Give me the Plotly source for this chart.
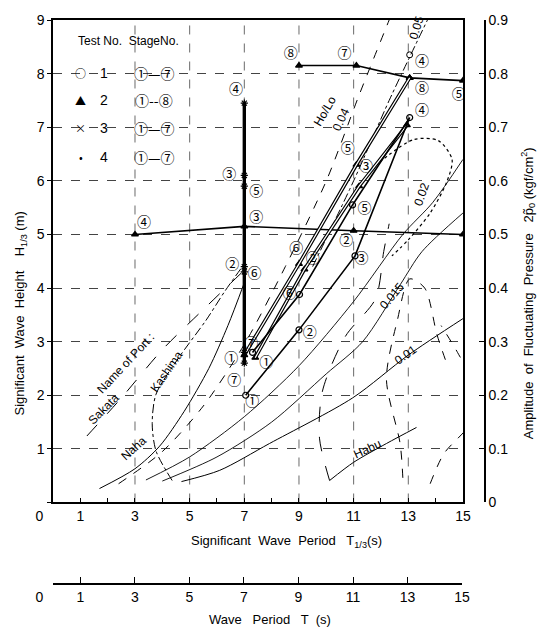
import plotly.graph_objects as go

FONT = "Liberation Sans, DejaVu Sans, sans-serif"
CFONT = "Noto Sans CJK JP, DejaVu Sans, sans-serif"

# ---------------- axes ----------------
x_tickvals = list(range(16))
x_ticktext = ["0" + "\u00a0" * 7, "1", " ", "3", " ", "5", " ", "7", " ", "9", " ", "11", " ", "13", " ", "15"]
x_grid = [3, 5, 7, 9, 11, 13]
y_range = [0, 9]
y_tickvals = list(range(10))
y_ticktext = [" ", "1", "2", "3", "4", "5", "6", "7", "8", "9"]
p_tickvals = [0, 0.1, 0.2, 0.3, 0.4, 0.5, 0.6, 0.7, 0.8, 0.9]
p_ticktext = ["0", "0.1", "0.2", "0.3", "0.4", "0.5", "0.6", "0.7", "0.8", "0.9"]
t_tickvals = [0, 1, 3, 5, 7, 9, 11, 13, 15]
t_ticktext = ["0" + "\u00a0" * 7, "1", "3", "5", "7", "9", "11", "13", "15"]

# ---------------- background curves ----------------
naha_T = [1.7, 3.0, 3.9, 4.8, 5.7, 6.4, 7.0]
naha_H = [0.26, 0.63, 1.05, 1.7, 2.5, 3.3, 4.1]
kashima_T = [4.36, 3.77, 3.63, 3.77, 4.6, 5.6, 6.3, 7.0]
kashima_H = [0.41, 0.96, 1.47, 2.02, 2.7, 3.4, 3.95, 4.45]
sakata_T = [1.24, 2.5, 4.0, 5.5, 6.93]
sakata_H = [1.24, 1.95, 2.85, 3.6, 4.3]

s004_T = [2.4, 4.0, 5.5, 7.0, 8.5, 10.0, 11.2, 12.3]
s004_H = [0.35, 0.95, 1.8, 2.95, 4.4, 6.0, 7.6, 9.0]
s005_T = [9.5, 11.0, 12.3, 13.7]
s005_H = [4.4, 6.0, 7.5, 9.0]
s002_T = [3.4, 5.0, 7.0, 9.0, 11.0, 12.8, 13.9, 15.0]
s002_H = [0.42, 0.85, 1.6, 2.55, 3.75, 5.0, 5.6, 6.4]
s0015_T = [4.0, 6.0, 8.0, 10.0, 11.33, 12.7, 13.5, 15.0]
s0015_H = [0.4, 0.85, 1.5, 2.4, 3.0, 4.06, 4.68, 5.4]
s001_T = [4.7, 6.1, 7.92, 10.96, 13.0, 15.0]
s001_H = [0.39, 0.6, 1.1, 1.95, 2.75, 3.43]

habu_a_T = [10.12, 9.75, 9.86, 10.7, 11.8, 12.1, 12.3]
habu_a_H = [0.41, 1.2, 2.08, 3.1, 3.8, 4.68, 5.2]
habu_s_T = [10.12, 11.0, 12.2, 13.3]
habu_s_H = [0.41, 0.75, 1.1, 1.4]
habu_b_T = [12.8, 12.7, 12.2, 12.6, 13.05, 13.6, 14.05, 14.4]
habu_b_H = [0.46, 1.1, 2.3, 3.4, 4.17, 4.0, 3.13, 2.6]
habu_c_T = [13.8, 14.3, 15.26, 15.5, 14.8, 14.2]
habu_c_H = [0.35, 0.91, 1.47, 2.08, 2.8, 3.3]
loop_T = [11.95, 13.2, 14.1, 14.6, 14.4, 13.8, 13.0, 12.4]
loop_H = [6.35, 6.77, 6.75, 6.4, 5.97, 5.4, 4.9, 4.6]

# ---------------- test paths ----------------
t1_T = [7.05, 9.0, 11.05, 13.05, 10.96, 9.02, 7.3]
t1_H = [2.0, 3.22, 4.6, 7.18, 5.55, 3.88, 2.8]
t2a_T = [3.0, 7.0, 11.0, 15.0]
t2a_H = [5.0, 5.15, 5.07, 5.0]
t2b_T = [9.0, 11.1, 13.05, 15.0]
t2b_H = [8.15, 8.15, 7.92, 7.87]
t3_T = [7.0, 9.0, 11.1, 13.05]
t3_H = [2.75, 4.45, 6.3, 7.92]
t3b_T = [7.4, 9.2, 11.2, 12.95]
t3b_H = [2.7, 4.35, 5.9, 7.04]
t4_T = [7.0, 7.0, 7.0, 7.0, 7.0, 7.0, 7.0]
t4_H = [2.6, 4.4, 6.1, 7.45, 5.9, 4.3, 2.8]
top_T = [13.05]
top_H = [8.35]

# stage labels
lab_T = [6.7, 6.45, 7.44, 7.44, 3.33, 6.56, 7.37, 7.25, 6.52, 6.63, 7.29, 7.8,
         8.65, 9.39, 8.9, 9.5, 11.4, 10.73, 11.29, 10.78, 11.45,
         8.7, 10.67, 13.5, 13.5, 13.5, 14.85]
lab_H = [7.68, 6.1, 5.79, 5.29, 5.2, 4.43, 4.25, 2.95, 2.67, 2.26, 1.86, 2.6,
         3.88, 3.15, 4.71, 4.53, 5.47, 4.86, 4.53, 6.59, 6.25,
         8.35, 8.35, 8.2, 7.7, 7.3, 7.6]
lab_txt = ["④", "③", "⑤", "③", "④", "②", "⑥", "⑦", "①", "⑦", "①", "①",
           "⑥", "②", "⑥", "②", "⑤", "②", "③", "⑤", "③",
           "⑧", "⑦", "④", "⑧", "④", "⑤"]

fig = go.Figure()

# vertical grid lines
for g in x_grid:
    fig.add_trace(go.Scatter(x=[g, g], y=y_range, mode="lines",
                             line=dict(color="#444", width=0.8, dash="dash"),
                             hoverinfo="skip", showlegend=False))


def curve(T, H, dash="solid", width=1.0, color="black"):
    fig.add_trace(go.Scatter(x=T, y=H, mode="lines",
                             line=dict(color=color, width=width, dash=dash, shape="spline", smoothing=0.8),
                             hoverinfo="skip", showlegend=False))


curve(naha_T, naha_H, "solid", 1.0)
curve(kashima_T, kashima_H, "dashdot", 1.0)
curve(sakata_T, sakata_H, "longdash", 1.0)
curve(s004_T, s004_H, "dash", 1.0)
curve(s005_T, s005_H, "dashdot", 1.0)
curve(s002_T, s002_H, "solid", 0.9)
curve(s0015_T, s0015_H, "solid", 0.9)
curve(s001_T, s001_H, "solid", 1.0)
curve(habu_a_T, habu_a_H, "longdash", 1.0)
curve(habu_s_T, habu_s_H, "solid", 1.0)
curve(habu_b_T, habu_b_H, "dash", 1.0)
curve(habu_c_T, habu_c_H, "dash", 1.0)
curve(loop_T, loop_H, "dot", 1.2)


def path(T, H, width=1.5, symbol="circle-open", msize=6, double=False):
    fig.add_trace(go.Scatter(x=T, y=H, mode="lines+markers",
                             line=dict(color="black", width=width),
                             marker=dict(symbol=symbol, size=msize, color="black",
                                         line=dict(color="black", width=1.2)),
                             hoverinfo="skip", showlegend=False))
    if double:
        fig.add_trace(go.Scatter(x=T, y=H, mode="lines",
                                 line=dict(color="white", width=width * 0.35),
                                 hoverinfo="skip", showlegend=False))


path(t2a_T, t2a_H, 1.6, "triangle-up", 6)
path(t2b_T, t2b_H, 1.6, "triangle-up", 6)
path(t3_T, t3_H, 3.6, "triangle-up", 6, double=True)
path(t3b_T, t3b_H, 3.6, "triangle-up", 6, double=True)
path(t1_T, t1_H, 1.6, "circle-open", 6)
path(t4_T, t4_H, 3.4, "asterisk-open", 6)
fig.add_trace(go.Scatter(x=top_T, y=top_H, mode="markers",
                         marker=dict(symbol="circle-open", size=6, color="black"),
                         hoverinfo="skip", showlegend=False))

fig.add_trace(go.Scatter(x=lab_T, y=lab_H, mode="text", text=lab_txt,
                         textfont=dict(family=CFONT, size=14, color="black"),
                         hoverinfo="skip", showlegend=False))

# invisible anchors so the extra axes get drawn
fig.add_trace(go.Scatter(x=[t_tickvals[0]], y=[p_tickvals[0]], xaxis="x", yaxis="y2", mode="markers",
                         marker=dict(opacity=0), hoverinfo="skip", showlegend=False))
fig.add_trace(go.Scatter(x=[t_tickvals[0]], y=[p_tickvals[0]], xaxis="x2", yaxis="y3", mode="markers",
                         marker=dict(opacity=0), hoverinfo="skip", showlegend=False))

# ---------------- text annotations ----------------
ann = []


def note(x, y, text, size=12, angle=0, xref="x", yref="y", xanchor="center", family=FONT):
    ann.append(dict(x=x, y=y, xref=xref, yref=yref, text=text, showarrow=False,
                    textangle=angle, xanchor=xanchor, yanchor="middle",
                    font=dict(family=family, size=size, color="black")))


# legend block
note(0.85, 8.6, "Test No.  StageNo.", 12, xanchor="left")
leg_sym = ["○", "▲", "×", "•"]
leg_no = ["1", "2", "3", "4"]
leg_rng = ["①—⑦", "①--⑧", "①—⑦", "①—⑦"]
leg_y = [8.01, 7.51, 6.98, 6.44]
for s, n, r, yy in zip(leg_sym, leg_no, leg_rng, leg_y):
    note(1.02, yy, s, 11, family=CFONT)
    note(1.86, yy, n, 14)
    note(3.7, yy, r, 14, family=CFONT)

# curve labels
note(2.67, 2.6, "Name of Port :", 12, -47)
note(1.86, 1.74, "Sakata", 12, -45)
note(4.17, 2.45, "Kashima", 12, -55)
note(2.96, 1.02, "Naha", 12, -42)
note(11.5, 1.0, "Habu", 12, -25)
note(9.95, 7.3, "Ho/Lo", 12, -60)
note(10.55, 7.15, "0.04", 12, -65)
note(13.3, 8.85, "0.05", 12, -72)
note(13.5, 5.75, "0.02", 12, -70)
note(12.4, 3.85, "0.015", 12, -50)
note(12.9, 2.75, "0.01", 12, -35)

# axis titles
note(-0.076, 0.479, "Significant  Wave  Height    H<sub>1/3</sub> (m)", 13, -90, "paper", "paper")
note(1.10, 0.515, "Amplitude  of  Fluctuating  Pressure   2p̃<sub>0</sub> (kgf/cm<sup>2</sup>)", 13, -90, "paper", "paper")
note(0.540, 0.074, "Significant  Wave  Period   T<sub>1/3</sub>(s)", 13, 0, "paper", "paper")
note(0.502, -0.064, "Wave   Period   T  (s)", 13, 0, "paper", "paper")

fig.update_layout(
    width=540, height=628,
    margin=dict(l=53, r=55, t=17, b=45),
    paper_bgcolor="white", plot_bgcolor="white",
    showlegend=False,
    annotations=ann,
    xaxis=dict(domain=[0, 0.949], range=[0, 15], tickmode="array", tickvals=x_tickvals, ticktext=x_ticktext,
               ticks="inside", ticklen=5, tickcolor="black", showgrid=False, zeroline=False,
               showline=True, linecolor="black", linewidth=1.5, mirror=True, anchor="y",
               tickfont=dict(family=FONT, size=14, color="black")),
    yaxis=dict(domain=[0.143, 1], range=y_range, tickmode="array", tickvals=y_tickvals, ticktext=y_ticktext,
               ticks="outside", ticklen=4, tickcolor="black", showgrid=True, gridcolor="#444",
               gridwidth=0.8, griddash="dash", zeroline=False, anchor="x",
               showline=True, linecolor="black", linewidth=1.5, mirror=True,
               tickfont=dict(family=FONT, size=14, color="black")),
    yaxis2=dict(overlaying="y", anchor="free", position=1.0, side="right", range=[0, 0.9],
                tickmode="array", tickvals=p_tickvals, ticktext=p_ticktext,
                ticks="inside", ticklen=5, tickcolor="black", showgrid=False, zeroline=False,
                showline=True, linecolor="black", linewidth=1.5,
                tickfont=dict(family=FONT, size=14, color="black")),
    xaxis2=dict(domain=[0, 0.947], anchor="y3", range=[0, 15],
                tickmode="array", tickvals=t_tickvals, ticktext=t_ticktext,
                ticks="inside", ticklen=6, tickcolor="black", showgrid=False, zeroline=False,
                showline=True, linecolor="black", linewidth=1.5,
                tickfont=dict(family=FONT, size=14, color="black")),
    yaxis3=dict(domain=[0, 0.01], anchor="x2", range=[0, 1], visible=False),
)

fig.write_html("out.html")
